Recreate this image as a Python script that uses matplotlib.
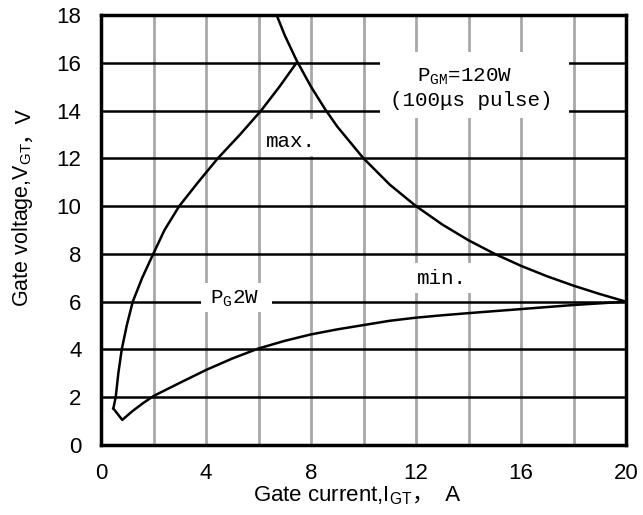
import matplotlib
matplotlib.use("Agg")
import matplotlib.pyplot as plt
from matplotlib.patches import Rectangle

plt.rcParams['mathtext.fontset'] = 'custom'
plt.rcParams['mathtext.rm'] = 'Liberation Sans'
plt.rcParams['mathtext.tt'] = 'Liberation Mono'

# ---- data ----
pgm_current = [6.69, 7.0, 7.45, 8.0, 8.53, 9.0, 10.0, 11.0, 12.0, 13.0, 14.0, 15.0, 16.0, 17.0, 18.0, 19.0, 20.0]
pgm_voltage = [18.0, 17.15, 16.1, 15.0, 14.07, 13.33, 12.0, 10.9, 10.0, 9.23, 8.57, 8.0, 7.5, 7.06, 6.67, 6.32, 6.0]

max_current = [7.45, 6.8, 6.1, 5.3, 4.45, 3.7, 2.98, 2.42, 1.99, 1.57, 1.21, 0.98, 0.79, 0.66, 0.56, 0.47]
max_voltage = [16.0, 15.0, 14.0, 13.0, 12.0, 11.0, 10.0, 9.0, 8.0, 7.0, 6.0, 5.0, 4.0, 3.0, 2.0, 1.53]

min_current = [0.47, 0.81, 1.2, 1.6, 2.0, 3.0, 4.0, 5.0, 6.0, 7.0, 8.0, 9.0, 10.0, 11.0, 12.0, 13.0, 14.0, 16.0, 18.0, 20.0]
min_voltage = [1.53, 1.05, 1.42, 1.75, 2.05, 2.6, 3.14, 3.62, 4.04, 4.36, 4.63, 4.84, 5.02, 5.2, 5.33, 5.43, 5.52, 5.69, 5.86, 6.0]

xticks = [0, 4, 8, 12, 16, 20]
yticks = [0, 2, 4, 6, 8, 10, 12, 14, 16, 18]

W, H = 643, 515
fig = plt.figure(figsize=(W/100, H/100), dpi=100)
ax = fig.add_axes([101/W, 1-445/H, 525/W, 430/H])
ax.set_xlim(0, 20)
ax.set_ylim(0, 18)

for x in range(2, 20, 2):
    ax.axvline(x, color='#a8a8a8', lw=2, zorder=1)
for y in range(2, 18, 2):
    ax.axhline(y, color='black', lw=1.8, zorder=1)

# white label backgrounds (x0, y0, x1, y1)
for x0, y0, x1, y1 in [(10.61, 13.67, 17.83, 16.46), (6.15, 12.1, 8.3, 13.65),
                       (3.81, 5.57, 6.5, 6.8), (11.85, 6.36, 14.15, 7.62)]:
    ax.add_patch(Rectangle((x0, y0), x1-x0, y1-y0, fc='white', ec='none', zorder=2))

ax.plot(pgm_current, pgm_voltage, color='black', lw=1.8, zorder=3)
ax.plot(max_current, max_voltage, color='black', lw=1.8, zorder=3)
ax.plot(min_current, min_voltage, color='black', lw=1.8, zorder=3)

mono = dict(family='Liberation Mono', fontsize=15, zorder=4, va='baseline', ha='center')
ax.text(13.87, 15.24, "P$_{\\mathtt{GM}}$=120W", **mono)
ax.text(14.12, 14.19, "(100μs pulse)", **mono)
ax.text(7.24, 12.47, "max.", **mono)
ax.text(5.1, 5.93, "P$_{\\mathtt{G}}$2W", **mono)
ax.text(13.0, 6.75, "min.", **mono)

ax.set_xticks(xticks)
ax.set_yticks(yticks)
ax.tick_params(axis='x', length=0, pad=13, labelsize=16)
ax.tick_params(axis='y', length=0, pad=14, labelsize=16)
for lab in ax.get_xticklabels() + ax.get_yticklabels():
    lab.set_family('Liberation Sans')
for s in ax.spines.values():
    s.set_linewidth(2.5)
    s.set_zorder(5)

# axis labels composed of two pieces (fullwidth comma from a CJK font)
xfont = dict(family=['Liberation Sans', 'Noto Sans CJK SC'], fontsize=16)
yfont = dict(family=['Liberation Sans', 'Noto Sans CJK SC'], fontsize=15.5)
xl1 = fig.text(253/W, (H-501)/H, "Gate current,I$_{\\mathrm{GT}}$", ha='left', va='baseline', **xfont)
yl1 = fig.text(28/W, (H-307)/H, "Gate voltage,V$_{\\mathrm{GT}}$", ha='left', va='baseline',
               rotation=90, rotation_mode='anchor', **yfont)
fig.canvas.draw()
r = fig.canvas.get_renderer()
bx = xl1.get_window_extent(r)
by = yl1.get_window_extent(r)
fig.text(bx.x1/W, (H-501)/H, "，  A", ha='left', va='baseline', **xfont)
fig.text(28/W, by.y1/H, "，V", ha='left', va='baseline',
         rotation=90, rotation_mode='anchor', **yfont)

fig.savefig("out.png", dpi=100)
